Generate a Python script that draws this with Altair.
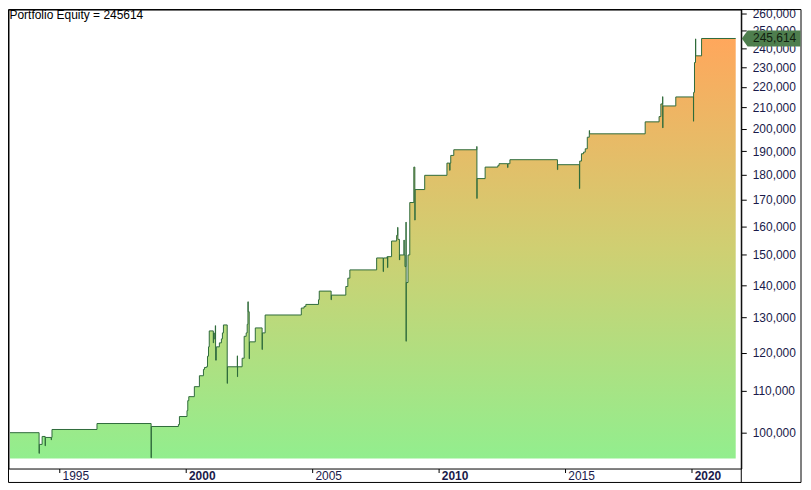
import altair as alt
import pandas as pd

# ---- data (fractional years, equity) ----
dates = [
    1993.06, 1994.21, 1994.22, 1994.33, 1994.45, 1994.46, 1994.69, 1994.70, 1994.72,
    1996.50, 1998.64, 1998.65, 1999.72, 1999.76, 2000.06, 2000.09, 2000.13, 2000.35,
    2000.55, 2000.71, 2000.75, 2000.83, 2000.87, 2000.91, 2000.94, 2001.10, 2001.11,
    2001.14, 2001.18, 2001.19, 2001.22, 2001.34, 2001.42, 2001.46, 2001.50, 2001.65,
    2001.66, 2002.05, 2002.055, 2002.06, 2002.24, 2002.32, 2002.40, 2002.44, 2002.47,
    2002.48, 2002.52, 2002.53, 2002.76, 2003.03, 2003.04, 2003.15, 2004.58, 2004.69,
    2004.76, 2005.26, 2005.29, 2005.76, 2005.77, 2006.34, 2006.42, 2006.50, 2007.56,
    2007.82, 2007.83, 2007.97, 2007.99, 2008.00, 2008.15, 2008.35, 2008.39, 2008.40,
    2008.46, 2008.47, 2008.64, 2008.65, 2008.68, 2008.72, 2008.725, 2008.73, 2008.80,
    2008.87, 2009.03, 2009.07, 2009.08, 2009.46, 2010.34, 2010.45, 2010.46, 2010.49,
    2010.61, 2011.52, 2011.525, 2011.53, 2011.85, 2012.35, 2012.40, 2012.74, 2012.75,
    2012.83, 2014.71, 2014.72, 2015.58, 2015.59, 2015.66, 2015.74, 2015.81, 2015.89,
    2015.97, 2015.98, 2018.18, 2018.73, 2018.80, 2018.87, 2018.875, 2018.88, 2019.39,
    2020.09, 2020.095, 2020.13, 2020.17, 2020.18, 2020.41, 2021.76,
]
equity = [
    100000, 95390, 97360, 99140, 97050, 98920, 98380, 98920, 100730,
    102110, 94440, 101420, 101880, 103750, 105170, 107580, 108560, 111060,
    113860, 115500, 116030, 116210, 119040, 121610, 126110, 122720, 125540,
    123840, 127630, 117970, 121610, 122720, 123840, 125540, 127840, 111890,
    116210, 119150, 113600, 116210, 118500, 124570, 125540, 128010, 134780,
    131750, 118340, 123000, 126970, 120870, 125540, 130770, 132860, 133350,
    133960, 135390, 138090, 135390, 136840, 139540, 142220, 144930, 148930,
    144370, 148930, 149370, 145690, 149370, 154790, 156800, 159680, 155380,
    148260, 149950, 155140, 149950, 146020, 161610, 123160, 140810, 149950,
    168990, 183210, 162350, 174060, 179800, 184880, 181850, 184880, 188140,
    190590, 192020, 170550, 178460, 183210, 183790, 184630, 183000, 184630,
    186320, 182140, 184210, 174450, 185740, 188870, 189560, 191020, 196120,
    199120, 197640, 203100, 205560, 211570, 215110, 200350, 210610, 214970,
    203380, 217220, 232530, 245380, 236100, 245614, 245614,
]
base_value = 94300
y_ticks = [100000, 110000, 120000, 130000, 140000, 150000, 160000, 170000, 180000,
           190000, 200000, 210000, 220000, 230000, 240000, 250000, 260000]
x_ticks = [1995, 2000, 2005, 2010, 2015, 2020]
title_text = "Portfolio Equity = 245614"
last_value = 245614
last_label = "245,614"

df = pd.DataFrame({"date": dates, "equity": equity})
df["base"] = base_value
df_last = pd.DataFrame({"equity": [last_value], "txt": [last_label]})
df_one = pd.DataFrame({"a": [0]})

W, H = 736, 461
FONT = "Liberation Sans"
LABEL_COLOR = "#1a1a4a"

xscale = alt.Scale(domain=[1993.0, 2021.98], nice=False, zero=False)
yscale = alt.Scale(type="log", domain=[92154, 262370], nice=False, zero=False)

x_axis = alt.Axis(
    values=x_ticks, format="d", title=None, grid=False, domain=False,
    ticks=True, tickSize=4, tickColor="black", labelAlign="left", labelOffset=3,
    labelBaseline="alphabetic", labelPadding=7.5, labelFont=FONT, labelFontSize=12,
    labelColor=LABEL_COLOR, labelFlush=False, labelOverlap=False,
    labelFontWeight={"condition": {"test": "datum.value % 10 === 0", "value": "bold"},
                     "value": "normal"},
)
y_axis = alt.Axis(
    orient="right", values=y_ticks, format=",d", title=None, grid=False, domain=False,
    ticks=True, tickSize=5, tickColor="black", labelPadding=6, labelAlign="left",
    labelFont=FONT, labelFontSize=12, labelColor=LABEL_COLOR, labelFlush=False,
    labelOverlap=False,
)

gradient = alt.Gradient(
    gradient="linear",
    stops=[alt.GradientStop(color="#FFA75C", offset=0),
           alt.GradientStop(color="#CFCF72", offset=0.5),
           alt.GradientStop(color="#92EE8E", offset=1)],
    x1=1, x2=1, y1=0, y2=1,
)

area = alt.Chart(df).mark_area(interpolate="step-after", color=gradient).encode(
    x=alt.X("date:Q", scale=xscale, axis=x_axis),
    y=alt.Y("equity:Q", scale=yscale, axis=y_axis),
    y2="base:Q",
)
line = alt.Chart(df).mark_line(interpolate="step-after", color="#2E6B3A", strokeWidth=1).encode(
    x="date:Q", y="equity:Q",
)

frame = alt.Chart(df_one).mark_rect(fillOpacity=0, stroke="black", strokeWidth=1).encode(
    x=alt.value(0), x2=alt.value(796), y=alt.value(0), y2=alt.value(475),
)
sep = alt.Chart(df_one).mark_rule(color="black", strokeWidth=1).encode(
    x=alt.value(736), y=alt.value(0), y2=alt.value(475),
)
title = alt.Chart(df_one).mark_text(
    align="left", baseline="alphabetic", fontSize=12, font=FONT, color="black",
).encode(x=alt.value(1), y=alt.value(9), text=alt.value(title_text))

arrow = alt.Chart(df_last).mark_point(
    shape="M -1 0 L -0.8 -0.27 L 1 -0.27 L 1 0.27 L -0.8 0.27 Z",
    size=3481, filled=True, fill="#4E7E4E", opacity=1, strokeWidth=0,
).encode(x=alt.value(766), y="equity:Q")
arrow_text = alt.Chart(df_last).mark_text(
    align="center", baseline="middle", fontSize=12, font=FONT, color="#10200f",
).encode(x=alt.value(769.5), y="equity:Q", text="txt:N")

chart = alt.layer(area, line, frame, sep, title, arrow, arrow_text).properties(
    width=W, height=H,
    autosize=alt.AutoSizeParams(type="none"),
    padding={"left": 0.5, "top": 0.5, "right": 62, "bottom": 16},
    background="white",
).configure_view(stroke="black", strokeWidth=1)

chart.save("out.html", embed_options={"renderer": "svg", "actions": False})
